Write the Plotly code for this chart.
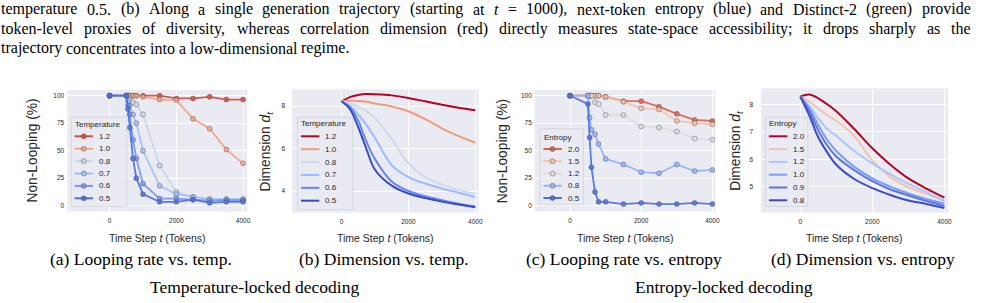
import re
import plotly.graph_objects as go

W, H = 985, 303

# ---------------- data ----------------
STEPS_LOOP = [0, 500, 550, 600, 700, 800, 1000, 1500, 2000, 2500, 3000, 3500, 4000]
STEPS_DIM = [0, 250, 500, 750, 1000, 1500, 2000, 2500, 3000, 3500, 4000]

TEMP_LABELS = ["1.2", "1.0", "0.8", "0.7", "0.6", "0.5"]
LOOP_T12 = [100, 100, 100, 100, 100, 100, 100, 100, 97.5, 97.5, 99, 96.5, 96.5]
LOOP_T10 = [100, 100, 100, 100, 100, 100, 99, 96.5, 96, 79, 70, 51, 38.5]
LOOP_T08 = [100, 100, 100, 96, 94, 92, 83, 36.5, 12.5, 8, 5.5, 5.5, 5.5]
LOOP_T07 = [100, 100, 95, 91, 83, 75, 50, 18, 10.5, 8, 6, 6, 6]
LOOP_T06 = [100, 100, 91, 83, 60, 43, 20, 6.5, 6.5, 5.5, 4.5, 5, 5]
LOOP_T05 = [100, 100, 88, 71, 43, 25, 10.5, 3.5, 3.5, 5.5, 2.5, 3.5, 3.5]

DIM_T12 = [8.22, 8.42, 8.52, 8.56, 8.55, 8.5, 8.38, 8.22, 8.06, 7.92, 7.8]
DIM_T10 = [8.22, 8.25, 8.24, 8.2, 8.12, 7.98, 7.75, 7.38, 6.95, 6.58, 6.27]
DIM_T08 = [8.22, 8.12, 7.95, 7.75, 7.45, 6.45, 5.3, 4.65, 4.3, 4.05, 3.86]
DIM_T07 = [8.22, 8.0, 7.6, 7.1, 6.5, 5.22, 4.65, 4.35, 4.12, 3.92, 3.72]
DIM_T06 = [8.22, 7.95, 7.3, 6.3, 5.5, 4.45, 4.0, 3.75, 3.56, 3.4, 3.27]
DIM_T05 = [8.22, 7.85, 7.0, 5.95, 5.0, 4.25, 3.88, 3.67, 3.5, 3.36, 3.23]

ENT_LOOP_LABELS = ["2.0", "1.5", "1.2", "0.8", "0.5"]
LOOP_E20 = [100, 100, 100, 100, 100, 100, 99, 95, 95, 90, 83.5, 78, 77]
LOOP_E15 = [100, 100, 100, 100, 100, 100, 99, 94.5, 88.5, 87.5, 77, 75, 74]
LOOP_E12 = [100, 100, 100, 100, 94, 92.5, 82.5, 82.5, 72, 71, 67.5, 61, 60]
LOOP_E08 = [100, 100, 80, 69, 65, 56, 42.5, 37.5, 30.5, 29.5, 37.5, 31.5, 32.5]
LOOP_E05 = [100, 92.5, 62, 35, 12.5, 3.5, 3.5, 1.5, 2.5, 1.5, 1.5, 2.5, 1.5]

ENT_DIM_LABELS = ["2.0", "1.5", "1.2", "1.0", "0.9", "0.8"]
DIM_E20 = [8.28, 8.36, 8.22, 8.0, 7.75, 7.1, 6.4, 5.8, 5.3, 4.93, 4.6]
DIM_E15 = [8.28, 8.1, 7.85, 7.6, 7.4, 6.85, 5.95, 5.35, 4.98, 4.73, 4.5]
DIM_E12 = [8.28, 7.95, 7.5, 7.1, 6.85, 6.3, 5.85, 5.45, 5.1, 4.8, 4.47]
DIM_E10 = [8.28, 7.85, 7.25, 6.7, 6.3, 5.72, 5.3, 5.0, 4.75, 4.55, 4.38]
DIM_E09 = [8.28, 7.75, 7.05, 6.5, 6.1, 5.6, 5.2, 4.9, 4.68, 4.48, 4.3]
DIM_E08 = [8.28, 7.6, 6.8, 6.25, 5.8, 5.28, 4.95, 4.7, 4.5, 4.37, 4.22]

X_TICKS = [0, 2000, 4000]
LOOP_Y_TICKS = [0, 25, 50, 75, 100]
DIM_T_Y_TICKS = [4, 6, 8]
DIM_E_Y_TICKS = [5, 6, 7, 8]

PARAGRAPH = [
    "temperature 0.5. (b) Along a single generation trajectory (starting at <i>t</i> = 1000), next-token entropy (blue) and Distinct-2 (green) provide",
    "token-level proxies of diversity, whereas correlation dimension (red) directly measures state-space accessibility; it drops sharply as the",
    "trajectory concentrates into a low-dimensional regime.",
]
SUBCAPTIONS = ["(a) Looping rate vs. temp.", "(b) Dimension vs. temp.",
               "(c) Looping rate vs. entropy", "(d) Dimension vs. entropy"]
GROUP_CAPTIONS = ["Temperature-locked decoding", "Entropy-locked decoding"]

# ---------------- styles ----------------
COL_A = ["#d6503e", "#f4a383", "#c9d6ec", "#a2c0fa", "#7397f0", "#4c70e0"]
COL_B = ["#b40426", "#f4997b", "#cdd9ec", "#9bbcff", "#6687ed", "#3b4cc0"]
COL_C = ["#df634e", "#f5c1a9", "#dcdcdc", "#92b4fb", "#4a70e2"]
COL_D = ["#b40426", "#f2c4ae", "#aac7fd", "#7a9df8", "#5875e1", "#3b4cc0"]

SANS = "Liberation Sans, Arial, sans-serif"
SERIF = "Liberation Serif, Times New Roman, serif"
BG = "#eaeaf2"
TXT = "#262626"

# Times advance widths (1/1000 em) used to justify the paragraph lines
TIMES_W = {" ": 250, "(": 333, ")": 333, ",": 250, ".": 250, "-": 333, ";": 278, ":": 278,
           "=": 564, "%": 833}
TIMES_W.update({d: 500 for d in "0123456789"})
TIMES_W.update(dict(zip("abcdefghijklmnopqrstuvwxyz",
                        [444, 500, 444, 500, 444, 333, 500, 500, 278, 278, 500, 278, 778,
                         500, 500, 500, 500, 333, 389, 278, 500, 500, 722, 500, 500, 444])))
TIMES_W.update(dict(zip("ABCDEFGHIJKLMNOPQRSTUVWXYZ",
                        [722, 667, 667, 722, 611, 556, 722, 722, 333, 389, 722, 611, 889,
                         722, 722, 556, 722, 667, 556, 611, 722, 722, 944, 722, 722, 611])))


def px_x(p):
    return p / W


def px_y(p):
    return 1 - p / H


def lin_range(p_lo, p_hi, p_a, v_a, p_b, v_b):
    s = (v_b - v_a) / (p_b - p_a)
    return [v_a + (p_lo - p_a) * s, v_a + (p_hi - p_a) * s]


PANELS = [
    dict(box=(67.5, 248.5, 90.0, 211.5), xcal=(110.2, 244.3), ycal=(205.7, 0, 95.7, 100),
         yticks=LOOP_Y_TICKS, ytitle="Non-Looping (%)", ytx=33, ystand=2),
    dict(box=(293.5, 481.0, 89.3, 212.5), xcal=(343.3, 477.7), ycal=(191.0, 4, 106.0, 8),
         yticks=DIM_T_Y_TICKS, ytitle="Dimension <i>d<sub>t</sub></i>", ytx=268, ystand=6),
    dict(box=(537.5, 719.0, 90.0, 211.5), xcal=(573.0, 716.0), ycal=(205.7, 0, 95.7, 100),
         yticks=LOOP_Y_TICKS, ytitle="Non-Looping (%)", ytx=505, ystand=2),
    dict(box=(765.0, 953.0, 88.5, 212.5), xcal=(804.3, 949.3), ycal=(186.7, 5, 104.3, 8),
         yticks=DIM_E_Y_TICKS, ytitle="Dimension <i>d<sub>t</sub></i>", ytx=740, ystand=7),
]

fig = go.Figure()
layout = dict(width=W, height=H, margin=dict(l=0, r=0, t=0, b=0),
              paper_bgcolor="white", plot_bgcolor=BG, showlegend=False)

for i, p in enumerate(PANELS, start=1):
    l, r, t, b = p["box"]
    xr = lin_range(l, r, p["xcal"][0], 0, p["xcal"][1], 4000)
    yr = lin_range(b, t, *p["ycal"])
    sx = "" if i == 1 else str(i)
    layout["xaxis" + sx] = dict(domain=[px_x(l), px_x(r)], range=xr, anchor="y" + sx,
                                tickvals=X_TICKS, ticks="", showgrid=True, gridcolor="white",
                                gridwidth=1.2, zeroline=False, showline=False,
                                ticklabelstandoff=4,
                                tickfont=dict(family=SANS, size=6.5, color=TXT))
    layout["yaxis" + sx] = dict(domain=[px_y(b), px_y(t)], range=yr, anchor="x" + sx,
                                tickvals=p["yticks"], ticks="", showgrid=True, gridcolor="white",
                                gridwidth=1.2, zeroline=False, showline=False,
                                ticklabelstandoff=p["ystand"],
                                tickfont=dict(family=SANS, size=6.5, color=TXT))

fig.update_layout(**layout)


def add_loop(series, labels, colors, axis):
    for ys, lab, col in zip(series, labels, colors):
        fig.add_trace(go.Scatter(
            x=STEPS_LOOP, y=ys, name=lab, mode="lines+markers",
            xaxis="x" + axis, yaxis="y" + axis, opacity=0.92,
            line=dict(color=col, width=1.8),
            marker=dict(size=5, color=col, line=dict(color="rgba(70,70,70,0.6)", width=0.7))))


def add_dim(series, labels, colors, axis):
    for ys, lab, col in zip(series, labels, colors):
        fig.add_trace(go.Scatter(
            x=STEPS_DIM, y=ys, name=lab, mode="lines",
            xaxis="x" + axis, yaxis="y" + axis,
            line=dict(color=col, width=2, shape="spline", smoothing=1.0)))


add_loop([LOOP_T12, LOOP_T10, LOOP_T08, LOOP_T07, LOOP_T06, LOOP_T05], TEMP_LABELS, COL_A, "")
add_dim([DIM_T12, DIM_T10, DIM_T08, DIM_T07, DIM_T06, DIM_T05], TEMP_LABELS, COL_B, "2")
add_loop([LOOP_E20, LOOP_E15, LOOP_E12, LOOP_E08, LOOP_E05], ENT_LOOP_LABELS, COL_C, "3")
add_dim([DIM_E20, DIM_E15, DIM_E12, DIM_E10, DIM_E09, DIM_E08], ENT_DIM_LABELS, COL_D, "4")


def note(text, x, y, size, family, color="black", xanchor="left", angle=0):
    fig.add_annotation(text=text, xref="paper", yref="paper", x=px_x(x), y=px_y(y),
                       xanchor=xanchor, yanchor="middle", showarrow=False, textangle=angle,
                       borderpad=0, borderwidth=0,
                       font=dict(family=family, size=size, color=color))


# ---------------- compact legends (matplotlib-style spacing) ----------------
LEG_FONT = 8


def add_legend(box, title, labels, colors, markers, title_y, row0, dy):
    x0, x1, y0, y1 = box
    fig.add_shape(type="rect", xref="paper", yref="paper", layer="above",
                  x0=px_x(x0), x1=px_x(x1), y0=px_y(y1), y1=px_y(y0),
                  fillcolor="rgba(234,234,242,0.85)", line=dict(color="#d2d2da", width=0.8))
    note(title, x0 + 4, title_y, LEG_FONT, SANS, TXT)
    for k, (lab, col) in enumerate(zip(labels, colors)):
        yy = row0 + k * dy
        fig.add_shape(type="line", xref="paper", yref="paper", layer="above",
                      x0=px_x(x0 + 3.5), x1=px_x(x0 + 22), y0=px_y(yy), y1=px_y(yy),
                      line=dict(color=col, width=2))
        if markers:
            cx, rr = x0 + 12.7, 2.5
            fig.add_shape(type="circle", xref="paper", yref="paper", layer="above",
                          x0=px_x(cx - rr), x1=px_x(cx + rr), y0=px_y(yy + rr), y1=px_y(yy - rr),
                          fillcolor=col, line=dict(color="rgba(70,70,70,0.6)", width=0.7))
        note(lab, x0 + 28, yy, LEG_FONT, SANS, TXT)


add_legend((71.5, 127.5, 117.3, 206.3), "Temperature", TEMP_LABELS, COL_A, True, 124.0, 136.3, 12.4)
add_legend((299.0, 354.5, 117.3, 209.5), "Temperature", TEMP_LABELS, COL_B, False, 123.7, 136.3, 12.88)
add_legend((542.7, 586.5, 128.7, 204.7), "Entropy", ENT_LOOP_LABELS, COL_C, True, 137.0, 149.0, 12.25)
add_legend((769.3, 812.0, 117.3, 206.3), "Entropy", ENT_DIM_LABELS, COL_D, False, 123.0, 136.3, 12.8)

# ---------------- axis titles ----------------
for p in PANELS:
    l, r, t, b = p["box"]
    note("Time Step <i>t</i> (Tokens)", (l + r) / 2, 238, 10.5, SANS, TXT, xanchor="center")
    note(p["ytitle"], p["ytx"], (t + b) / 2, 13.8, SANS, TXT, xanchor="center", angle=-90)

# ---------------- captions ----------------
for txt, cx in zip(SUBCAPTIONS, [142, 386, 627, 867]):
    note(txt, cx, 259, 17.5, SERIF, xanchor="center")
for txt, cx in zip(GROUP_CAPTIONS, [256, 728]):
    note(txt, cx, 287, 17.5, SERIF, xanchor="center")


# ---------------- paragraph (justified like the LaTeX source) ----------------
def word_width(word, size):
    plain = re.sub(r"<[^>]+>", "", word)
    return sum(TIMES_W.get(ch, 500) for ch in plain) * size / 1000


def add_line(line, y, size, x_left, x_right, justify):
    words = line.split(" ")
    widths = [word_width(w, size) for w in words]
    if justify:
        gap = (x_right - x_left - sum(widths)) / (len(words) - 1)
    else:
        gap = TIMES_W[" "] * size / 1000
    x = x_left
    for w, wd in zip(words, widths):
        note(w, x, y, size, SERIF)
        x += wd + gap


PARA_SIZE = 16
for k, (txt, cy) in enumerate(zip(PARAGRAPH, [9.5, 28.8, 48.0])):
    add_line(txt, cy, PARA_SIZE, 1.5, 975.5, justify=(k < 2))

fig.write_html("out.html")
